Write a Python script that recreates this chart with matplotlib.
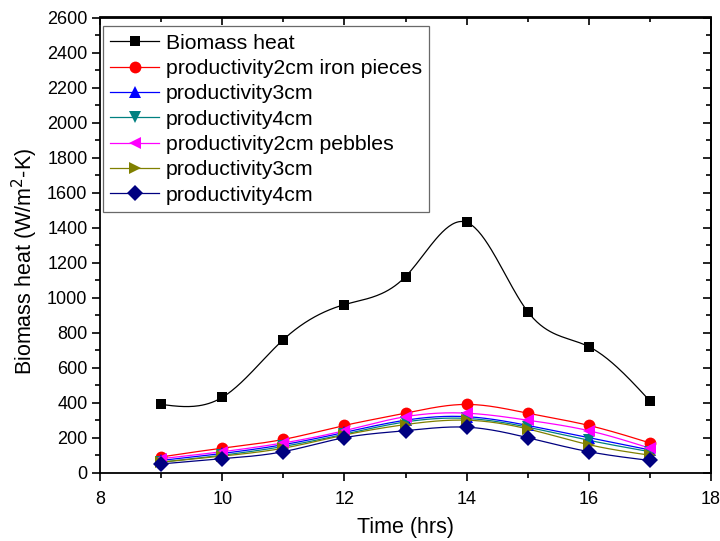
import numpy as np
import matplotlib
matplotlib.use("Agg")
import matplotlib.pyplot as plt

plt.rcParams['font.family'] = ['Liberation Sans', 'DejaVu Sans']

time_hrs = [9, 10, 11, 12, 13, 14, 15, 16, 17]
biomass_heat = [390, 430, 760, 960, 1120, 1430, 920, 720, 410]
iron_2cm = [90, 140, 190, 270, 340, 390, 340, 270, 170]
iron_3cm = [70, 110, 160, 230, 300, 320, 270, 200, 130]
iron_4cm = [60, 100, 150, 220, 290, 310, 260, 185, 120]
pebbles_2cm = [80, 120, 170, 240, 320, 340, 300, 240, 140]
pebbles_3cm = [60, 95, 140, 215, 275, 300, 250, 160, 100]
pebbles_4cm = [50, 80, 120, 200, 240, 260, 200, 120, 70]

labels = ["Biomass heat", "productivity2cm iron pieces", "productivity3cm",
          "productivity4cm", "productivity2cm pebbles", "productivity3cm",
          "productivity4cm"]
series = [biomass_heat, iron_2cm, iron_3cm, iron_4cm, pebbles_2cm, pebbles_3cm, pebbles_4cm]
colors = ['#000000', '#FF0000', '#0000FF', '#008080', '#FF00FF', '#808000', '#000080']
markers = ['s', 'o', '^', 'v', '<', '>', 'D']
msizes = [7.5, 8.5, 9, 9, 9, 9, 8.5]

x_ticks = [8, 10, 12, 14, 16, 18]
y_ticks = list(range(0, 2601, 200))


def natural_spline(x, y, n=300):
    x = np.asarray(x, float)
    y = np.asarray(y, float)
    m = len(x)
    h = np.diff(x)
    A = np.zeros((m, m))
    b = np.zeros(m)
    A[0, 0] = 1
    A[-1, -1] = 1
    for i in range(1, m - 1):
        A[i, i - 1] = h[i - 1]
        A[i, i] = 2 * (h[i - 1] + h[i])
        A[i, i + 1] = h[i]
        b[i] = 3 * ((y[i + 1] - y[i]) / h[i] - (y[i] - y[i - 1]) / h[i - 1])
    c = np.linalg.solve(A, b)
    xs = np.linspace(x[0], x[-1], n)
    idx = np.clip(np.searchsorted(x, xs) - 1, 0, m - 2)
    dx = xs - x[idx]
    bb = (y[1:] - y[:-1]) / h - h * (2 * c[:-1] + c[1:]) / 3
    d = (c[1:] - c[:-1]) / (3 * h)
    ys = y[idx] + bb[idx] * dx + c[idx] * dx ** 2 + d[idx] * dx ** 3
    return xs, ys


fig = plt.figure(figsize=(7.2, 5.41), dpi=100)
ax = fig.add_axes([100 / 720, 1 - 472.7 / 541, 611 / 720, 455.2 / 541])

handles = []
for yv, col, mk, ms, lab in zip(series, colors, markers, msizes, labels):
    xs, ys = natural_spline(time_hrs, yv)
    ax.plot(xs, ys, color=col, lw=0.9, zorder=2)
    ax.plot(time_hrs, yv, linestyle='none', marker=mk, color=col, ms=ms,
            markeredgewidth=0, zorder=3)
    h, = ax.plot([], [], color=col, lw=0.9, marker=mk, ms=ms, markeredgewidth=0, label=lab)
    handles.append(h)

ax.set_xlim(8, 18)
ax.set_ylim(0, 2600)
ax.set_xticks(x_ticks)
ax.set_yticks(y_ticks)
ax.set_xticks(np.arange(9, 18, 2), minor=True)
ax.set_yticks(np.arange(100, 2600, 200), minor=True)

ax.tick_params(axis='both', which='major', direction='out', length=6, width=1.2,
               labelsize=13)
ax.tick_params(axis='x', which='major', pad=7)
ax.tick_params(axis='y', which='major', pad=3)
ax.tick_params(axis='both', which='minor', direction='out', length=3.5, width=1.2)
for s in ax.spines.values():
    s.set_linewidth(1.3)

sec_x = ax.secondary_xaxis('top')
sec_x.set_xticks(x_ticks)
sec_x.set_xticks(np.arange(9, 18, 2), minor=True)
sec_x.tick_params(which='major', direction='in', length=6, width=1.2)
sec_x.tick_params(which='minor', direction='in', length=3.5, width=1.2)
sec_x.set_xticklabels([])
sec_x.spines['top'].set_linewidth(1.3)

sec_y = ax.secondary_yaxis('right')
sec_y.set_yticks(y_ticks)
sec_y.set_yticks(np.arange(100, 2600, 200), minor=True)
sec_y.tick_params(which='major', direction='in', length=6, width=1.2)
sec_y.tick_params(which='minor', direction='in', length=3.5, width=1.2)
sec_y.set_yticklabels([])
sec_y.spines['right'].set_linewidth(1.3)

ax.set_xlabel('Time (hrs)', fontsize=15.5, labelpad=7)
ax.set_ylabel('Biomass heat (W/m$^{2}$-K)', fontsize=15.5)
ax.yaxis.set_label_coords(-0.099, 0.465)

leg = ax.legend(handles=handles, loc='upper left', bbox_to_anchor=(0.005, 0.981),
                borderaxespad=0, fontsize=15.3, frameon=True, fancybox=False,
                edgecolor='#444444', handlelength=2.3, handletextpad=0.3,
                labelspacing=0.3, borderpad=0.35)
leg.get_frame().set_linewidth(0.9)

fig.savefig('out.png', dpi=100)
